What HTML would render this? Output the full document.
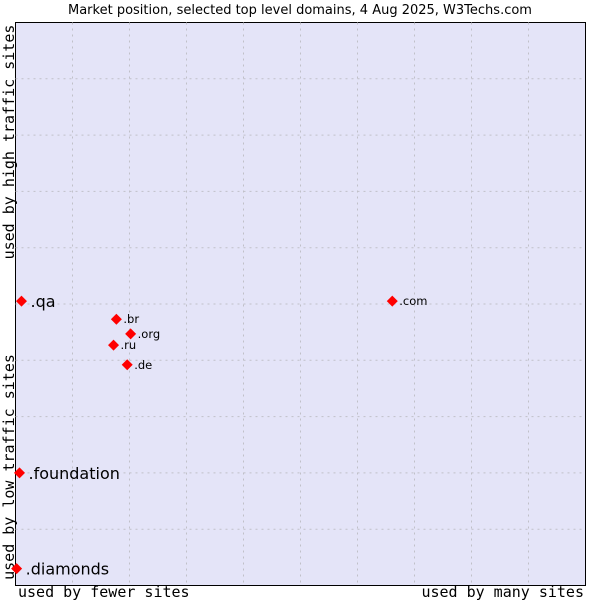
<!DOCTYPE html>
<html><head><meta charset="utf-8"><style>
body{margin:0;background:#fff;width:600px;height:600px;overflow:hidden}
svg{display:block}
</style></head><body>
<svg width="600" height="600">
<text x="300" y="14" text-anchor="middle" font-family="DejaVu Sans, sans-serif" font-size="13" fill="#000">Market position, selected top level domains, 4 Aug 2025, W3Techs.com</text>
<rect x="15.5" y="22.5" width="570" height="563" fill="#e4e4f8" stroke="#000"/>
<g id="grid"></g>
<text transform="translate(14,142) rotate(-90)" text-anchor="middle" font-family="DejaVu Sans Mono, monospace" font-size="15">used by high traffic sites</text>
<text transform="translate(14,467) rotate(-90)" text-anchor="middle" font-family="DejaVu Sans Mono, monospace" font-size="15">used by low traffic sites</text>
<text x="18" y="597" font-family="DejaVu Sans Mono, monospace" font-size="15">used by fewer sites</text>
<text x="584" y="597" text-anchor="end" font-family="DejaVu Sans Mono, monospace" font-size="15">used by many sites</text>
<g id="pts"></g>
</svg>
<script>
const labels=[".qa",".com",".br",".org",".ru",".de",".foundation",".diamonds"];
const xVals=[1.05,66.1,17.7,20.2,17.2,19.6,0.7,0.2];
const yVals=[50.5,50.5,47.3,44.7,42.7,39.2,20.0,3.0];
const big=[true,false,false,false,false,false,true,true];
const NS="http://www.w3.org/2000/svg";
const L=15.5,T=22.5,W=570,H=563;
const xs=v=>L+v/100*W, ys=v=>T+H-v/100*H;
const grid=document.getElementById('grid');
for(let i=1;i<10;i++){
 const a=document.createElementNS(NS,'line');
 
 
 a.setAttribute('x1',xs(i*10));a.setAttribute('x2',xs(i*10));a.setAttribute('y1',T);a.setAttribute('y2',T+H);
 a.setAttribute('stroke','#c0c0c8');a.setAttribute('stroke-dasharray','2,4');grid.appendChild(a);
 const b=document.createElementNS(NS,'line');
 
 
 b.setAttribute('y1',ys(i*10));b.setAttribute('y2',ys(i*10));b.setAttribute('x1',L);b.setAttribute('x2',L+W);
 b.setAttribute('stroke','#c0c0c8');b.setAttribute('stroke-dasharray','2,4');grid.appendChild(b);
}
const pts=document.getElementById('pts');
labels.forEach((lb,i)=>{
 const x=xs(xVals[i]),y=ys(yVals[i]);
 const p=document.createElementNS(NS,'polygon');
 
 
 p.setAttribute('points',`${x},${y-5.5} ${x+5.5},${y} ${x},${y+5.5} ${x-5.5},${y}`);
 p.setAttribute('fill','#f00');pts.appendChild(p);
 const t=document.createElementNS(NS,'text');
 
 
 t.setAttribute('x',x+(big[i]?9:7));t.setAttribute('y',y+(big[i]?6:4));
 t.setAttribute('font-family','DejaVu Sans, sans-serif');
 t.setAttribute('font-size',big[i]?'16':'11.5');
 t.textContent=lb;pts.appendChild(t);
});
</script>
</body></html>
